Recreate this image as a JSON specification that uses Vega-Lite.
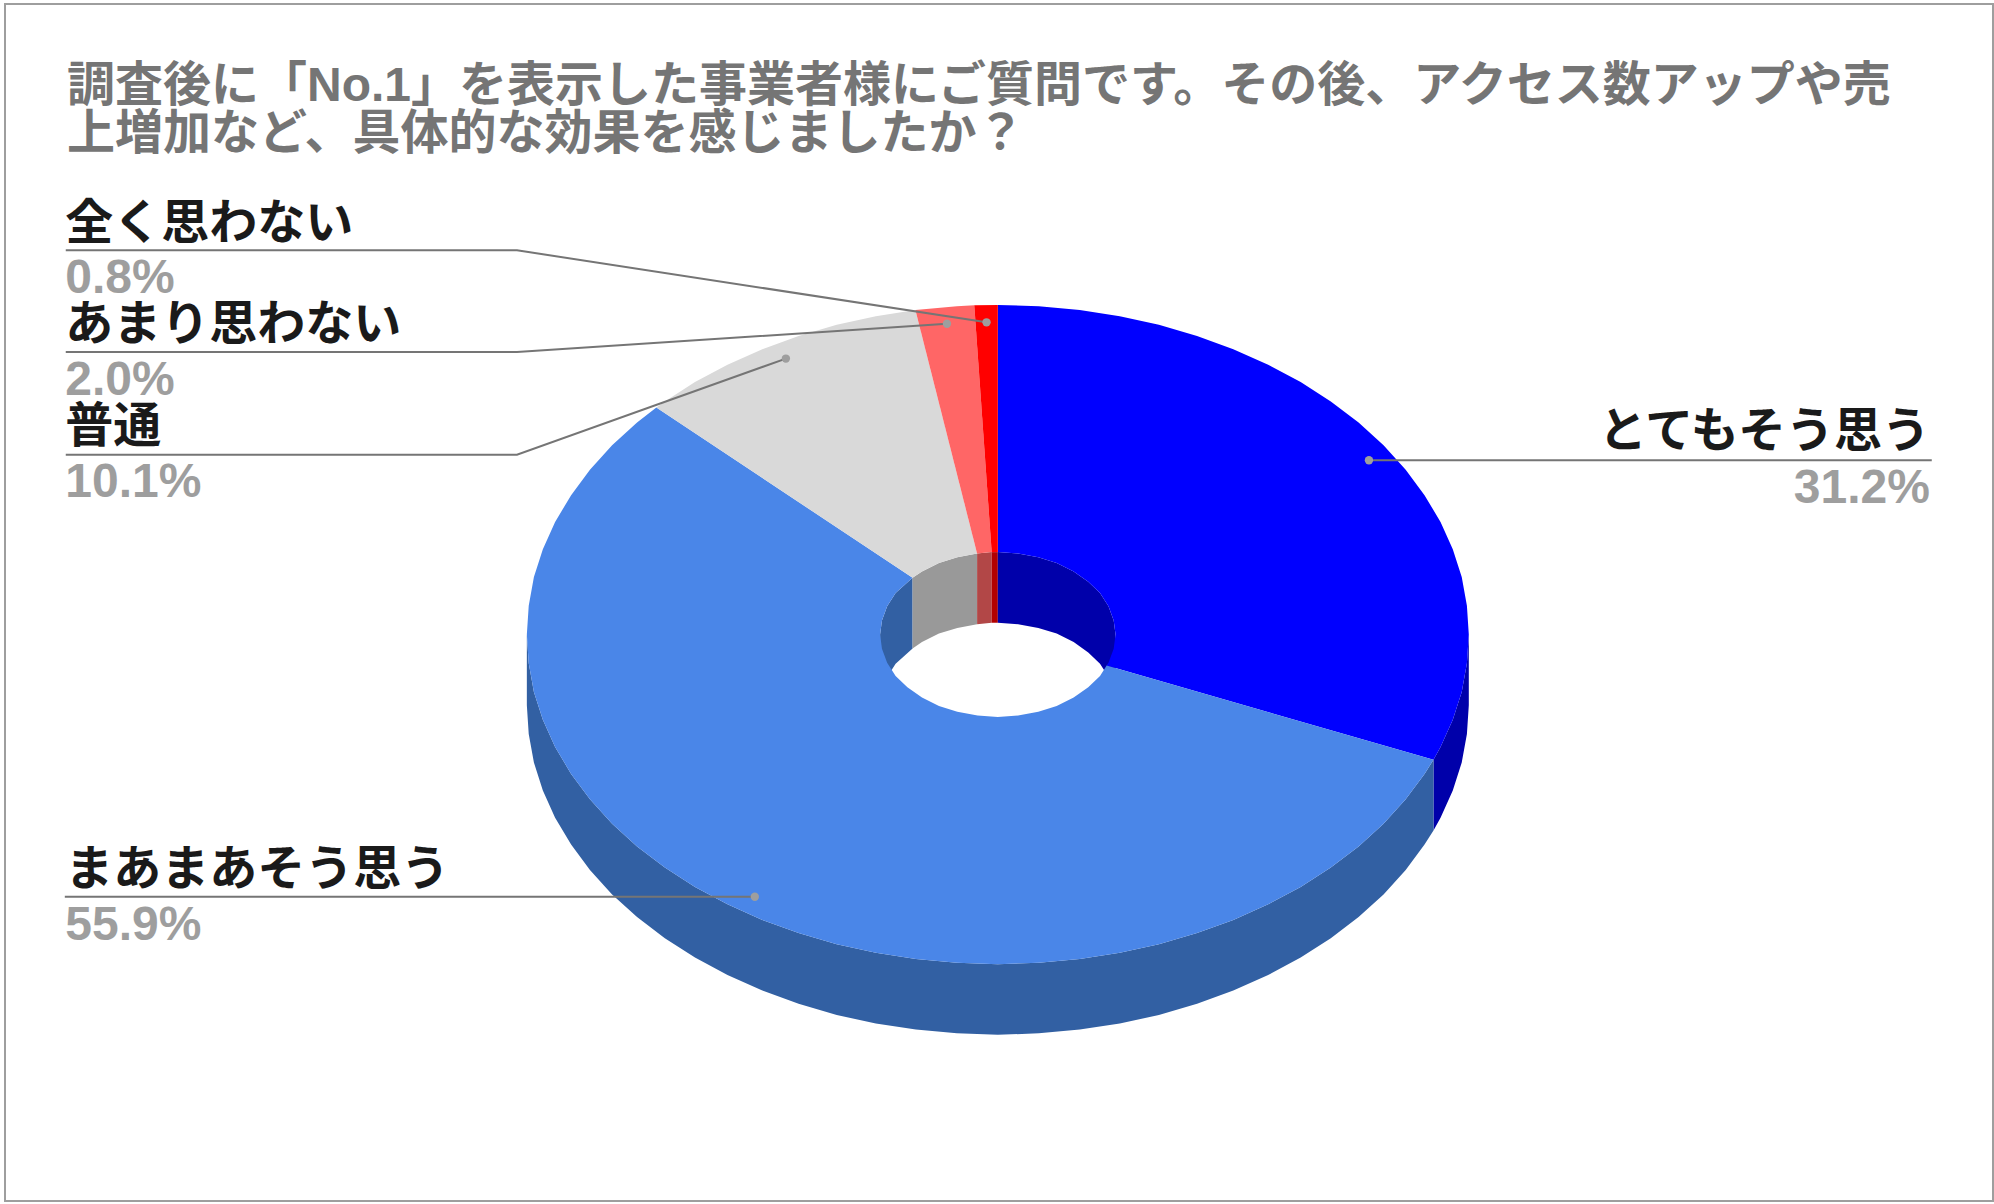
{
  "$schema": "https://vega.github.io/schema/vega-lite/v6.json",
  "width": 1988,
  "height": 1197,
  "padding": {"left": 5, "top": 4, "right": 1, "bottom": 3},
  "autosize": {"type": "none"},
  "background": "#ffffff",
  "view": {"stroke": "#9e9e9e", "strokeWidth": 2, "fill": "#ffffff"},
  "title": {
    "text": ["調査後に「No.1」を表示した事業者様にご質問です。その後、アクセス数アップや売", "上増加など、具体的な効果を感じましたか？"],
    "anchor": "start",
    "frame": "group",
    "orient": "top",
    "baseline": "alphabetic",
    "offset": -193,
    "dx": 62,
    "lineHeight": 48,
    "font": "Liberation Sans, Noto Sans CJK JP",
    "fontSize": 48,
    "fontWeight": "bold",
    "color": "#757575"
  },
  "datasets": {
    "walls": [
      {"slice": "very", "wall": "outer", "x": 100, "y": 0, "y2": -15},
      {"slice": "very", "wall": "outer", "x": 99.6, "y": -6.1, "y2": -21.1},
      {"slice": "very", "wall": "outer", "x": 98.5, "y": -12.2, "y2": -27.2},
      {"slice": "very", "wall": "outer", "x": 96.6, "y": -18.1, "y2": -33.1},
      {"slice": "very", "wall": "outer", "x": 94, "y": -23.9, "y2": -38.9},
      {"slice": "very", "wall": "outer", "x": 92.5, "y": -26.6, "y2": -41.6},
      {"slice": "somewhat", "wall": "outer", "x": 92.5, "y": -26.6, "y2": -41.6},
      {"slice": "somewhat", "wall": "outer", "x": 90.6, "y": -29.6, "y2": -44.6},
      {"slice": "somewhat", "wall": "outer", "x": 86.6, "y": -35, "y2": -50},
      {"slice": "somewhat", "wall": "outer", "x": 81.9, "y": -40.2, "y2": -55.2},
      {"slice": "somewhat", "wall": "outer", "x": 76.6, "y": -45, "y2": -60},
      {"slice": "somewhat", "wall": "outer", "x": 70.7, "y": -49.5, "y2": -64.5},
      {"slice": "somewhat", "wall": "outer", "x": 64.3, "y": -53.6, "y2": -68.6},
      {"slice": "somewhat", "wall": "outer", "x": 57.4, "y": -57.3, "y2": -72.3},
      {"slice": "somewhat", "wall": "outer", "x": 50, "y": -60.6, "y2": -75.6},
      {"slice": "somewhat", "wall": "outer", "x": 42.3, "y": -63.4, "y2": -78.4},
      {"slice": "somewhat", "wall": "outer", "x": 34.2, "y": -65.8, "y2": -80.8},
      {"slice": "somewhat", "wall": "outer", "x": 25.9, "y": -67.6, "y2": -82.6},
      {"slice": "somewhat", "wall": "outer", "x": 17.4, "y": -68.9, "y2": -83.9},
      {"slice": "somewhat", "wall": "outer", "x": 8.7, "y": -69.7, "y2": -84.7},
      {"slice": "somewhat", "wall": "outer", "x": 0, "y": -70, "y2": -85},
      {"slice": "somewhat", "wall": "outer", "x": -8.7, "y": -69.7, "y2": -84.7},
      {"slice": "somewhat", "wall": "outer", "x": -17.4, "y": -68.9, "y2": -83.9},
      {"slice": "somewhat", "wall": "outer", "x": -25.9, "y": -67.6, "y2": -82.6},
      {"slice": "somewhat", "wall": "outer", "x": -34.2, "y": -65.8, "y2": -80.8},
      {"slice": "somewhat", "wall": "outer", "x": -42.3, "y": -63.4, "y2": -78.4},
      {"slice": "somewhat", "wall": "outer", "x": -50, "y": -60.6, "y2": -75.6},
      {"slice": "somewhat", "wall": "outer", "x": -57.4, "y": -57.3, "y2": -72.3},
      {"slice": "somewhat", "wall": "outer", "x": -64.3, "y": -53.6, "y2": -68.6},
      {"slice": "somewhat", "wall": "outer", "x": -70.7, "y": -49.5, "y2": -64.5},
      {"slice": "somewhat", "wall": "outer", "x": -76.6, "y": -45, "y2": -60},
      {"slice": "somewhat", "wall": "outer", "x": -81.9, "y": -40.2, "y2": -55.2},
      {"slice": "somewhat", "wall": "outer", "x": -86.6, "y": -35, "y2": -50},
      {"slice": "somewhat", "wall": "outer", "x": -90.6, "y": -29.6, "y2": -44.6},
      {"slice": "somewhat", "wall": "outer", "x": -94, "y": -23.9, "y2": -38.9},
      {"slice": "somewhat", "wall": "outer", "x": -96.6, "y": -18.1, "y2": -33.1},
      {"slice": "somewhat", "wall": "outer", "x": -98.5, "y": -12.2, "y2": -27.2},
      {"slice": "somewhat", "wall": "outer", "x": -99.6, "y": -6.1, "y2": -21.1},
      {"slice": "somewhat", "wall": "outer", "x": -100, "y": 0, "y2": -15},
      {"slice": "somewhat", "wall": "inner", "x": -25, "y": 0, "y2": -15},
      {"slice": "somewhat", "wall": "inner", "x": -24.6, "y": 3, "y2": -12},
      {"slice": "somewhat", "wall": "inner", "x": -23.5, "y": 6, "y2": -9},
      {"slice": "somewhat", "wall": "inner", "x": -21.7, "y": 8.8, "y2": -6.2},
      {"slice": "somewhat", "wall": "inner", "x": -18.1, "y": 12.05, "y2": -2.95},
      {"slice": "neutral", "wall": "inner", "x": -18.1, "y": 12.05, "y2": -2.95},
      {"slice": "neutral", "wall": "inner", "x": -16.1, "y": 13.4, "y2": -1.6},
      {"slice": "neutral", "wall": "inner", "x": -12.5, "y": 15.2, "y2": 0.2},
      {"slice": "neutral", "wall": "inner", "x": -8.6, "y": 16.4, "y2": 1.4},
      {"slice": "neutral", "wall": "inner", "x": -4.4, "y": 17.2, "y2": 2.2},
      {"slice": "notreally", "wall": "inner", "x": -4.4, "y": 17.2, "y2": 2.2},
      {"slice": "notreally", "wall": "inner", "x": -1.3, "y": 17.5, "y2": 2.5},
      {"slice": "never", "wall": "inner", "x": -1.3, "y": 17.5, "y2": 2.5},
      {"slice": "never", "wall": "inner", "x": 0, "y": 17.5, "y2": 2.5},
      {"slice": "very", "wall": "inner", "x": 0, "y": 17.5, "y2": 2.5},
      {"slice": "very", "wall": "inner", "x": 4.3, "y": 17.2, "y2": 2.2},
      {"slice": "very", "wall": "inner", "x": 8.6, "y": 16.4, "y2": 1.4},
      {"slice": "very", "wall": "inner", "x": 12.5, "y": 15.2, "y2": 0.2},
      {"slice": "very", "wall": "inner", "x": 16.1, "y": 13.4, "y2": -1.6},
      {"slice": "very", "wall": "inner", "x": 19.2, "y": 11.2, "y2": -3.8},
      {"slice": "very", "wall": "inner", "x": 21.7, "y": 8.8, "y2": -6.2},
      {"slice": "very", "wall": "inner", "x": 23.5, "y": 6, "y2": -9},
      {"slice": "very", "wall": "inner", "x": 24.6, "y": 3, "y2": -12},
      {"slice": "very", "wall": "inner", "x": 25, "y": 0, "y2": -15}
    ],
    "tops": [
      {"slice": "very", "i": 0, "x": 0, "y": 70},
      {"slice": "very", "i": 1, "x": 8.7, "y": 69.7},
      {"slice": "very", "i": 2, "x": 17.4, "y": 68.9},
      {"slice": "very", "i": 3, "x": 25.9, "y": 67.6},
      {"slice": "very", "i": 4, "x": 34.2, "y": 65.8},
      {"slice": "very", "i": 5, "x": 42.3, "y": 63.4},
      {"slice": "very", "i": 6, "x": 50, "y": 60.6},
      {"slice": "very", "i": 7, "x": 57.4, "y": 57.3},
      {"slice": "very", "i": 8, "x": 64.3, "y": 53.6},
      {"slice": "very", "i": 9, "x": 70.7, "y": 49.5},
      {"slice": "very", "i": 10, "x": 76.6, "y": 45},
      {"slice": "very", "i": 11, "x": 81.9, "y": 40.2},
      {"slice": "very", "i": 12, "x": 86.6, "y": 35},
      {"slice": "very", "i": 13, "x": 90.6, "y": 29.6},
      {"slice": "very", "i": 14, "x": 94, "y": 23.9},
      {"slice": "very", "i": 15, "x": 96.6, "y": 18.1},
      {"slice": "very", "i": 16, "x": 98.5, "y": 12.2},
      {"slice": "very", "i": 17, "x": 99.6, "y": 6.1},
      {"slice": "very", "i": 18, "x": 100, "y": 0},
      {"slice": "very", "i": 19, "x": 99.6, "y": -6.1},
      {"slice": "very", "i": 20, "x": 98.5, "y": -12.2},
      {"slice": "very", "i": 21, "x": 96.6, "y": -18.1},
      {"slice": "very", "i": 22, "x": 94, "y": -23.9},
      {"slice": "very", "i": 23, "x": 92.5, "y": -26.6},
      {"slice": "very", "i": 24, "x": 23.1, "y": -6.6},
      {"slice": "very", "i": 25, "x": 23.5, "y": -6},
      {"slice": "very", "i": 26, "x": 24.6, "y": -3},
      {"slice": "very", "i": 27, "x": 25, "y": 0},
      {"slice": "very", "i": 28, "x": 24.6, "y": 3},
      {"slice": "very", "i": 29, "x": 23.5, "y": 6},
      {"slice": "very", "i": 30, "x": 21.7, "y": 8.8},
      {"slice": "very", "i": 31, "x": 19.2, "y": 11.2},
      {"slice": "very", "i": 32, "x": 16.1, "y": 13.4},
      {"slice": "very", "i": 33, "x": 12.5, "y": 15.2},
      {"slice": "very", "i": 34, "x": 8.6, "y": 16.4},
      {"slice": "very", "i": 35, "x": 4.3, "y": 17.2},
      {"slice": "very", "i": 36, "x": 0, "y": 17.5},
      {"slice": "somewhat", "i": 0, "x": 92.5, "y": -26.6},
      {"slice": "somewhat", "i": 1, "x": 90.6, "y": -29.6},
      {"slice": "somewhat", "i": 2, "x": 86.6, "y": -35},
      {"slice": "somewhat", "i": 3, "x": 81.9, "y": -40.2},
      {"slice": "somewhat", "i": 4, "x": 76.6, "y": -45},
      {"slice": "somewhat", "i": 5, "x": 70.7, "y": -49.5},
      {"slice": "somewhat", "i": 6, "x": 64.3, "y": -53.6},
      {"slice": "somewhat", "i": 7, "x": 57.4, "y": -57.3},
      {"slice": "somewhat", "i": 8, "x": 50, "y": -60.6},
      {"slice": "somewhat", "i": 9, "x": 42.3, "y": -63.4},
      {"slice": "somewhat", "i": 10, "x": 34.2, "y": -65.8},
      {"slice": "somewhat", "i": 11, "x": 25.9, "y": -67.6},
      {"slice": "somewhat", "i": 12, "x": 17.4, "y": -68.9},
      {"slice": "somewhat", "i": 13, "x": 8.7, "y": -69.7},
      {"slice": "somewhat", "i": 14, "x": 0, "y": -70},
      {"slice": "somewhat", "i": 15, "x": -8.7, "y": -69.7},
      {"slice": "somewhat", "i": 16, "x": -17.4, "y": -68.9},
      {"slice": "somewhat", "i": 17, "x": -25.9, "y": -67.6},
      {"slice": "somewhat", "i": 18, "x": -34.2, "y": -65.8},
      {"slice": "somewhat", "i": 19, "x": -42.3, "y": -63.4},
      {"slice": "somewhat", "i": 20, "x": -50, "y": -60.6},
      {"slice": "somewhat", "i": 21, "x": -57.4, "y": -57.3},
      {"slice": "somewhat", "i": 22, "x": -64.3, "y": -53.6},
      {"slice": "somewhat", "i": 23, "x": -70.7, "y": -49.5},
      {"slice": "somewhat", "i": 24, "x": -76.6, "y": -45},
      {"slice": "somewhat", "i": 25, "x": -81.9, "y": -40.2},
      {"slice": "somewhat", "i": 26, "x": -86.6, "y": -35},
      {"slice": "somewhat", "i": 27, "x": -90.6, "y": -29.6},
      {"slice": "somewhat", "i": 28, "x": -94, "y": -23.9},
      {"slice": "somewhat", "i": 29, "x": -96.6, "y": -18.1},
      {"slice": "somewhat", "i": 30, "x": -98.5, "y": -12.2},
      {"slice": "somewhat", "i": 31, "x": -99.6, "y": -6.1},
      {"slice": "somewhat", "i": 32, "x": -100, "y": 0},
      {"slice": "somewhat", "i": 33, "x": -99.6, "y": 6.1},
      {"slice": "somewhat", "i": 34, "x": -98.5, "y": 12.2},
      {"slice": "somewhat", "i": 35, "x": -96.6, "y": 18.1},
      {"slice": "somewhat", "i": 36, "x": -94, "y": 23.9},
      {"slice": "somewhat", "i": 37, "x": -90.6, "y": 29.6},
      {"slice": "somewhat", "i": 38, "x": -86.6, "y": 35},
      {"slice": "somewhat", "i": 39, "x": -81.9, "y": 40.2},
      {"slice": "somewhat", "i": 40, "x": -76.6, "y": 45},
      {"slice": "somewhat", "i": 41, "x": -72.5, "y": 48.2},
      {"slice": "somewhat", "i": 42, "x": -18.1, "y": 12.05},
      {"slice": "somewhat", "i": 43, "x": -21.7, "y": 8.8},
      {"slice": "somewhat", "i": 44, "x": -23.5, "y": 6},
      {"slice": "somewhat", "i": 45, "x": -24.6, "y": 3},
      {"slice": "somewhat", "i": 46, "x": -25, "y": 0},
      {"slice": "somewhat", "i": 47, "x": -24.6, "y": -3},
      {"slice": "somewhat", "i": 48, "x": -23.5, "y": -6},
      {"slice": "somewhat", "i": 49, "x": -21.7, "y": -8.8},
      {"slice": "somewhat", "i": 50, "x": -19.2, "y": -11.2},
      {"slice": "somewhat", "i": 51, "x": -16.1, "y": -13.4},
      {"slice": "somewhat", "i": 52, "x": -12.5, "y": -15.2},
      {"slice": "somewhat", "i": 53, "x": -8.6, "y": -16.4},
      {"slice": "somewhat", "i": 54, "x": -4.3, "y": -17.2},
      {"slice": "somewhat", "i": 55, "x": 0, "y": -17.5},
      {"slice": "somewhat", "i": 56, "x": 4.3, "y": -17.2},
      {"slice": "somewhat", "i": 57, "x": 8.6, "y": -16.4},
      {"slice": "somewhat", "i": 58, "x": 12.5, "y": -15.2},
      {"slice": "somewhat", "i": 59, "x": 16.1, "y": -13.4},
      {"slice": "somewhat", "i": 60, "x": 19.2, "y": -11.2},
      {"slice": "somewhat", "i": 61, "x": 21.7, "y": -8.8},
      {"slice": "somewhat", "i": 62, "x": 23.1, "y": -6.6},
      {"slice": "neutral", "i": 0, "x": -72.5, "y": 48.2},
      {"slice": "neutral", "i": 1, "x": -70.7, "y": 49.5},
      {"slice": "neutral", "i": 2, "x": -64.3, "y": 53.6},
      {"slice": "neutral", "i": 3, "x": -57.4, "y": 57.3},
      {"slice": "neutral", "i": 4, "x": -50, "y": 60.6},
      {"slice": "neutral", "i": 5, "x": -42.3, "y": 63.4},
      {"slice": "neutral", "i": 6, "x": -34.2, "y": 65.8},
      {"slice": "neutral", "i": 7, "x": -25.9, "y": 67.6},
      {"slice": "neutral", "i": 8, "x": -17.5, "y": 68.9},
      {"slice": "neutral", "i": 9, "x": -4.4, "y": 17.2},
      {"slice": "neutral", "i": 10, "x": -8.6, "y": 16.4},
      {"slice": "neutral", "i": 11, "x": -12.5, "y": 15.2},
      {"slice": "neutral", "i": 12, "x": -16.1, "y": 13.4},
      {"slice": "neutral", "i": 13, "x": -18.1, "y": 12.05},
      {"slice": "notreally", "i": 0, "x": -17.5, "y": 68.9},
      {"slice": "notreally", "i": 1, "x": -8.7, "y": 69.7},
      {"slice": "notreally", "i": 2, "x": -5, "y": 69.9},
      {"slice": "notreally", "i": 3, "x": -1.3, "y": 17.5},
      {"slice": "notreally", "i": 4, "x": -4.4, "y": 17.2},
      {"slice": "never", "i": 0, "x": -5, "y": 69.9},
      {"slice": "never", "i": 1, "x": 0, "y": 70},
      {"slice": "never", "i": 2, "x": 0, "y": 17.5},
      {"slice": "never", "i": 3, "x": -1.3, "y": 17.5}
    ],
    "leaders": [
      {"slice": "never", "i": 0, "x": -197.9, "y": 81.6},
      {"slice": "never", "i": 1, "x": -102.1, "y": 81.6},
      {"slice": "never", "i": 2, "x": -2.4, "y": 66.3},
      {"slice": "notreally", "i": 0, "x": -197.9, "y": 60},
      {"slice": "notreally", "i": 1, "x": -102.1, "y": 60},
      {"slice": "notreally", "i": 2, "x": -10.8, "y": 66},
      {"slice": "neutral", "i": 0, "x": -197.9, "y": 38.2},
      {"slice": "neutral", "i": 1, "x": -102.1, "y": 38.2},
      {"slice": "neutral", "i": 2, "x": -45, "y": 58.6},
      {"slice": "very", "i": 0, "x": 198.3, "y": 37},
      {"slice": "very", "i": 1, "x": 78.8, "y": 37},
      {"slice": "somewhat", "i": 0, "x": -198.1, "y": -55.7},
      {"slice": "somewhat", "i": 1, "x": -51.6, "y": -55.7}
    ],
    "labels": [
      {"slice": "very", "name": "とてもそう思う", "share": 0.312, "side": "right", "dotx": 78.8, "doty": 37, "tx": 197.9, "namey": 39.8, "sharey": 27.9},
      {"slice": "somewhat", "name": "まあまあそう思う", "share": 0.559, "side": "left", "dotx": -51.6, "doty": -55.7, "tx": -198, "namey": -53.2, "sharey": -64.9},
      {"slice": "neutral", "name": "普通", "share": 0.101, "side": "left", "dotx": -45, "doty": 58.6, "tx": -198, "namey": 40.8, "sharey": 29.2},
      {"slice": "notreally", "name": "あまり思わない", "share": 0.02, "side": "left", "dotx": -10.8, "doty": 66, "tx": -198, "namey": 62.5, "sharey": 50.8},
      {"slice": "never", "name": "全く思わない", "share": 0.008, "side": "left", "dotx": -2.4, "doty": 66.3, "tx": -198, "namey": 84.1, "sharey": 72.5}
    ]
  },
  "layer": [
    {
      "data": {"name": "walls"},
      "mark": {"type": "area", "interpolate": "linear", "strokeWidth": 0},
      "encoding": {
        "x": {"field": "x", "type": "quantitative", "scale": {"domain": [-210.8, 211.3], "nice": false, "zero": false}, "axis": null},
        "y": {"field": "y", "type": "quantitative", "scale": {"domain": [-120.3, 133.9], "nice": false, "zero": false}, "axis": null},
        "y2": {"field": "y2"},
        "detail": {"field": "wall"},
        "fill": {
          "field": "slice",
          "type": "nominal",
          "legend": null,
          "scale": {
            "domain": ["very", "somewhat", "neutral", "notreally", "never"],
            "range": ["#0000aa", "#3260a3", "#999999", "#b24747", "#b20000"]
          }
        }
      }
    },
    {
      "data": {"name": "tops"},
      "mark": {"type": "line", "interpolate": "linear", "strokeWidth": 0},
      "encoding": {
        "x": {"field": "x", "type": "quantitative"},
        "y": {"field": "y", "type": "quantitative"},
        "order": {"field": "i", "type": "quantitative"},
        "fill": {
          "field": "slice",
          "type": "nominal",
          "legend": null,
          "scale": {
            "domain": ["very", "somewhat", "neutral", "notreally", "never"],
            "range": ["#0000ff", "#4a86e8", "#d9d9d9", "#ff6666", "#ff0000"]
          }
        }
      }
    },
    {
      "data": {"name": "leaders"},
      "mark": {"type": "line", "color": "#757575", "strokeWidth": 2, "interpolate": "linear"},
      "encoding": {
        "x": {"field": "x", "type": "quantitative"},
        "y": {"field": "y", "type": "quantitative"},
        "detail": {"field": "slice"},
        "order": {"field": "i", "type": "quantitative"}
      }
    },
    {
      "data": {"name": "labels"},
      "mark": {"type": "point", "filled": true, "opacity": 1, "color": "#9e9e9e", "size": 70},
      "encoding": {
        "x": {"field": "dotx", "type": "quantitative"},
        "y": {"field": "doty", "type": "quantitative"}
      }
    },
    {
      "data": {"name": "labels"},
      "transform": [{"filter": "datum.side == 'left'"}],
      "mark": {"type": "text", "align": "left", "baseline": "alphabetic", "font": "Liberation Sans, Noto Sans CJK JP", "fontSize": 48, "fontWeight": "bold", "color": "#1a1a1a"},
      "encoding": {
        "x": {"field": "tx", "type": "quantitative"},
        "y": {"field": "namey", "type": "quantitative"},
        "text": {"field": "name"}
      }
    },
    {
      "data": {"name": "labels"},
      "transform": [{"filter": "datum.side == 'right'"}],
      "mark": {"type": "text", "align": "right", "baseline": "alphabetic", "font": "Liberation Sans, Noto Sans CJK JP", "fontSize": 48, "fontWeight": "bold", "color": "#1a1a1a"},
      "encoding": {
        "x": {"field": "tx", "type": "quantitative"},
        "y": {"field": "namey", "type": "quantitative"},
        "text": {"field": "name"}
      }
    },
    {
      "data": {"name": "labels"},
      "transform": [{"filter": "datum.side == 'left'"}],
      "mark": {"type": "text", "align": "left", "baseline": "alphabetic", "font": "Liberation Sans, Noto Sans CJK JP", "fontSize": 48, "fontWeight": "bold", "color": "#9e9e9e"},
      "encoding": {
        "x": {"field": "tx", "type": "quantitative"},
        "y": {"field": "sharey", "type": "quantitative"},
        "text": {"field": "share", "type": "quantitative", "format": ".1%"}
      }
    },
    {
      "data": {"name": "labels"},
      "transform": [{"filter": "datum.side == 'right'"}],
      "mark": {"type": "text", "align": "right", "baseline": "alphabetic", "font": "Liberation Sans, Noto Sans CJK JP", "fontSize": 48, "fontWeight": "bold", "color": "#9e9e9e"},
      "encoding": {
        "x": {"field": "tx", "type": "quantitative"},
        "y": {"field": "sharey", "type": "quantitative"},
        "text": {"field": "share", "type": "quantitative", "format": ".1%"}
      }
    }
  ],
  "resolve": {"scale": {"fill": "independent"}}
}
